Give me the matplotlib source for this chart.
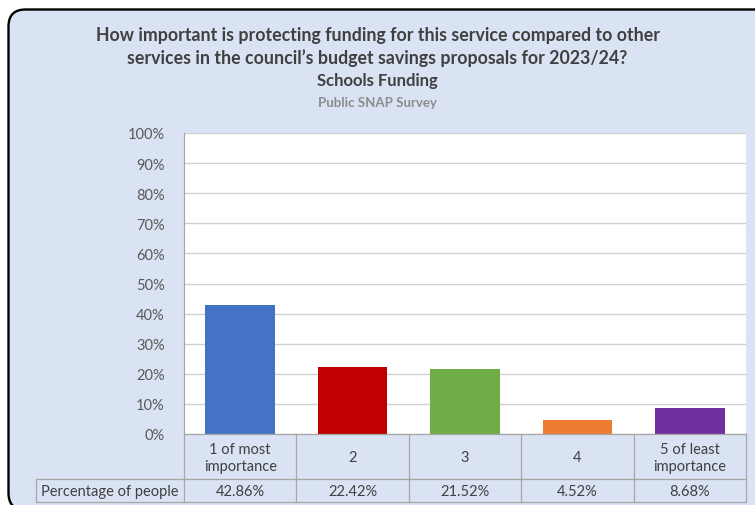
import matplotlib
matplotlib.use('Agg')
import matplotlib.pyplot as plt
from matplotlib.patches import FancyBboxPatch
from matplotlib.lines import Line2D

categories = ['1 of most\nimportance', '2', '3', '4', '5 of least\nimportance']
values = [42.86, 22.42, 21.52, 4.52, 8.68]
value_labels = ['42.86%', '22.42%', '21.52%', '4.52%', '8.68%']
colors = ['#4472c4', '#c00000', '#70ad47', '#ed7d31', '#7030a0']
yticks = [0, 10, 20, 30, 40, 50, 60, 70, 80, 90, 100]
row_label = 'Percentage of people'

W, H = 755, 506
FONT = 'Lato'
TXT = '#404040'
BG = '#dae3f3'
EDGE = '#a6a6a6'


def fx(px):
    return px / W


def fy(py):
    return 1 - py / H


fig = plt.figure(figsize=(W / 100, H / 100), dpi=100)
fig.patch.set_facecolor('white')

# background axes in pixel units, for the rounded frame
bg = fig.add_axes([0, 0, 1, 1], zorder=-5)
bg.set_xlim(0, W)
bg.set_ylim(H, 0)
bg.axis('off')
bg.add_patch(FancyBboxPatch((8.5, 10.5), 775 - 8.5, 511 - 10.5,
                            boxstyle='round,pad=0,rounding_size=17',
                            facecolor=BG, edgecolor='black', linewidth=1.7))

# titles
fig.text(0.5, fy(35), 'How important is protecting funding for this service compared to other',
         ha='center', va='center', fontsize=12.8, fontweight='bold', color=TXT, family=FONT)
fig.text(0.5, fy(58), 'services in the council\u2019s budget savings proposals for 2023/24?',
         ha='center', va='center', fontsize=12.8, fontweight='bold', color=TXT, family=FONT)
fig.text(0.5, fy(81), 'Schools Funding', ha='center', va='center',
         fontsize=12, fontweight='bold', color=TXT, family=FONT)
fig.text(0.5, fy(103), 'Public SNAP Survey', ha='center', va='center',
         fontsize=9.5, fontweight='bold', color='#8c8c8c', family=FONT)

# plot area
x0, x1, ytop, ybot = 184, 746, 134, 435
ax = fig.add_axes([fx(x0), fy(ybot), fx(x1) - fx(x0), fy(ytop) - fy(ybot)])
ax.set_facecolor('white')
xs = list(range(len(categories)))
ax.bar(xs, values, width=0.62, color=colors, zorder=3)
ax.set_xlim(-0.5, len(categories) - 0.5)
ax.set_ylim(0, 100)
ax.set_yticks(yticks)
ax.set_yticklabels([f'{t}%' for t in yticks], fontsize=10.5, color='#595959', family=FONT)
ax.set_xticks([])
ax.tick_params(axis='y', length=0, pad=14)
ax.grid(axis='y', color='#d0d0d0', linewidth=1, zorder=0)
for s in ['top', 'right', 'bottom']:
    ax.spines[s].set_visible(False)
ax.spines['left'].set_color(EDGE)

# data table below the plot
col_w = (x1 - x0) / len(categories)
r1, r2, r3 = 435, 480, 503
lw = 0.9


def seg(xa, xb, ya, yb):
    fig.lines.append(Line2D([fx(xa), fx(xb)], [fy(ya), fy(yb)],
                            transform=fig.transFigure, color=EDGE, lw=lw))


seg(x0, x1, r1, r1)
seg(36, x1, r2, r2)
seg(36, x1, r3, r3)
seg(36, 36, r2, r3)
for i in range(len(categories) + 1):
    xp = x0 + i * col_w
    seg(xp, xp, r1, r3)

for i, (cat, lab) in enumerate(zip(categories, value_labels)):
    xc = x0 + (i + 0.5) * col_w
    fig.text(fx(xc), fy((r1 + r2) / 2 + 1), cat, ha='center', va='center',
             fontsize=10.5, color=TXT, family=FONT, linespacing=1.2)
    fig.text(fx(xc), fy((r2 + r3) / 2 + 1), lab, ha='center', va='center',
             fontsize=10.5, color=TXT, family=FONT)
fig.text(fx(110), fy((r2 + r3) / 2 + 1), row_label, ha='center', va='center',
         fontsize=10.5, color=TXT, family=FONT)

fig.savefig('out.png', dpi=100)
